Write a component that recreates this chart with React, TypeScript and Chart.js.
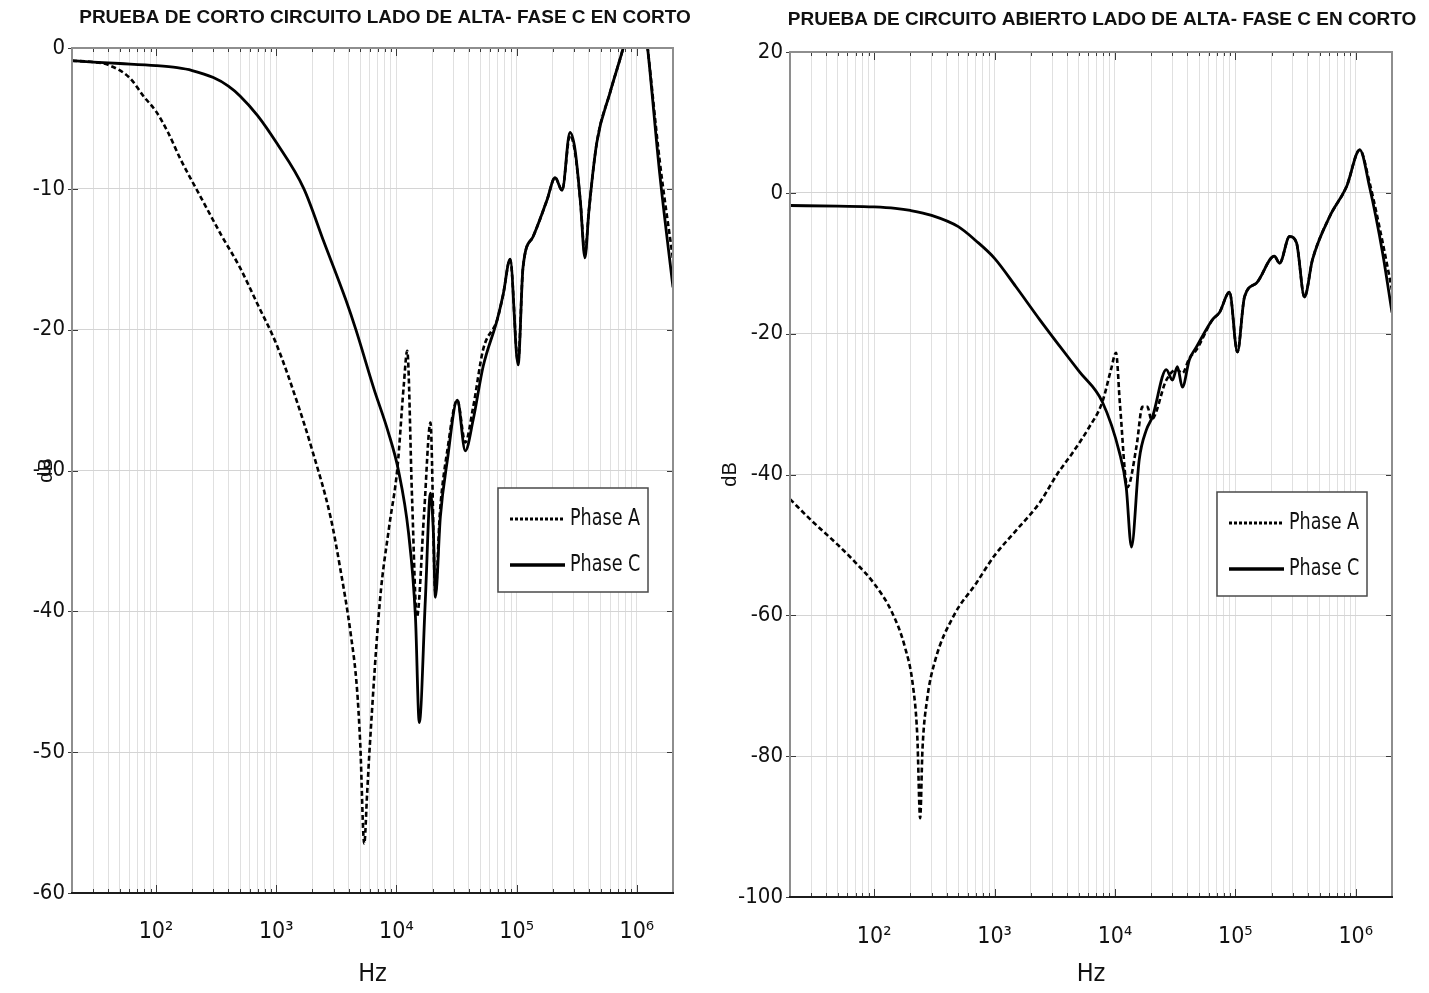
import React, { useEffect, useRef } from "react";
import { Chart, registerables } from "chart.js";

Chart.register(...registerables);

// ---------------- data ----------------
const seriesNames = ["Phase A", "Phase C"];
const decadeValues = [100, 1000, 10000, 100000, 1000000];
const decadeLabels = ["10²", "10³", "10⁴", "10⁵", "10⁶"];

const shortTitle = "PRUEBA DE CORTO CIRCUITO LADO DE ALTA- FASE C EN CORTO";
const openTitle = "PRUEBA DE CIRCUITO ABIERTO LADO DE ALTA- FASE C EN CORTO";

const shortYTicks = [0, -10, -20, -30, -40, -50, -60];
const openYTicks = [20, 0, -20, -40, -60, -80, -100];

// Short-circuit test (left)
const shortFreqA = [20, 30, 40, 60, 80, 100, 126, 160, 236, 350, 500, 700, 1000, 1500, 2000, 2830, 3400, 4150, 4700, 5000, 5400, 5700, 6000, 7300, 8700, 10200, 11500, 12300, 13500, 14800, 17000, 19200, 21100, 23000, 26500, 32100, 37400, 43500, 52700, 68900, 77300, 88300, 102900, 113000, 137000, 179000, 209000, 239000, 278000, 306000, 340000, 370000, 400000, 465000, 597000, 765000, 1060000, 1230000, 1550000, 2000000];
const shortDbA = [-0.9, -1.0, -1.2, -2.1, -3.5, -4.5, -6.0, -7.9, -10.6, -13.3, -15.6, -18.2, -21.0, -25.2, -28.6, -33.3, -36.9, -41.5, -45.5, -49.4, -56.5, -53, -49.6, -39.2, -34, -29.8, -24, -21.5, -32, -40.4, -33, -26.6, -38.7, -33, -28.6, -25, -28, -25.5, -21.4, -19.3, -17.5, -15.0, -22.3, -15.6, -13.4, -10.8, -9.2, -10.1, -6.2, -7.4, -11, -14.6, -11.5, -6.7, -3.2, -0.1, 4.5, 0, -8, -15];

const shortFreqC = [20, 30, 50, 100, 150, 200, 300, 400, 500, 700, 1000, 1700, 2500, 3800, 4600, 6500, 8500, 10400, 12600, 14400, 15500, 17400, 19200, 20300, 21100, 23200, 26500, 32100, 37400, 43500, 52700, 68900, 77300, 88300, 102900, 113000, 137000, 179000, 209000, 239000, 278000, 306000, 340000, 370000, 400000, 465000, 597000, 765000, 1060000, 1230000, 1550000, 2000000];
const shortDbC = [-0.9, -1.0, -1.1, -1.25, -1.4, -1.6, -2.1, -2.7, -3.4, -4.8, -6.7, -10, -13.8, -17.9, -20, -24.2, -27.2, -30, -34.4, -40.4, -47.9, -39.2, -31.6, -34.4, -39, -33.3, -29.3, -25, -28.6, -26.4, -22.6, -19.3, -17.5, -15.0, -22.5, -15.6, -13.4, -10.8, -9.2, -10.1, -6.0, -7.2, -11, -14.9, -11.5, -6.7, -3.2, -0.1, 4.5, 0, -8.9, -17];

// Open-circuit test (right)
const openFreqA = [20, 30, 50, 70, 100, 140, 180, 210, 228, 241, 252, 275, 320, 460, 700, 1000, 1500, 2370, 3300, 4450, 6000, 7860, 9300, 10200, 11000, 12700, 15100, 16900, 18600, 20100, 26700, 32400, 36300, 41500, 47500, 64600, 73800, 89400, 104000, 119000, 150000, 211000, 233000, 282000, 322000, 375000, 437000, 606000, 839000, 1080000, 1300000, 1670000, 2000000];
const openDbA = [-43.5, -46.5, -50, -52.5, -55.5, -59.5, -64.5, -70, -77, -88.8, -79, -72, -66.5, -60, -55.5, -51.5, -48, -44, -40, -36.9, -33.5, -29.7, -25, -22.7, -30, -41.8, -36, -30.4, -30.4, -32.2, -26.6, -25.1, -25.6, -23.5, -22.3, -18, -17, -14.1, -22.6, -14.8, -12.8, -9, -10, -6.2, -7.1, -14.8, -9.5, -3.4, 0.9, 6.1, 1.5, -7, -13.8];

const openFreqC = [20, 50, 100, 150, 200, 300, 500, 700, 1000, 1500, 2370, 3450, 5060, 7860, 10900, 12400, 13700, 15900, 18200, 20500, 26700, 30000, 33000, 36300, 41500, 47500, 64600, 73800, 89400, 104000, 119000, 150000, 211000, 233000, 282000, 322000, 375000, 437000, 606000, 839000, 1080000, 1300000, 1670000, 2000000];
const openDbC = [-1.8, -1.9, -2.0, -2.2, -2.5, -3.2, -4.8, -6.8, -9.3, -13.3, -18, -21.7, -25.4, -29.7, -36.9, -41.8, -50.3, -37.9, -33.7, -31.8, -25.1, -26.6, -24.7, -27.6, -23.7, -21.9, -18, -17, -14.1, -22.6, -14.8, -12.8, -9, -10, -6.2, -7.1, -14.8, -9.5, -3.4, 0.9, 6.1, 0.9, -8.5, -17];

// ---------------- helpers ----------------
const NARROW = "'Liberation Sans Narrow', 'DejaVu Sans Condensed', 'Arial Narrow', sans-serif";
const REGULAR = "'Liberation Sans', Arial, sans-serif";

function toPoints(f: number[], d: number[]) {
  return f.map((x, i) => ({ x, y: d[i] }));
}

function logTickValues(min: number, max: number) {
  const out: number[] = [];
  for (let e = 1; e <= 6; e++) {
    for (let m = 1; m <= 9; m++) {
      const v = m * Math.pow(10, e);
      if (v >= min && v <= max) out.push(v);
    }
  }
  return out;
}

const framePlugin = {
  id: "frame",
  afterDatasetsDraw(chart: any) {
    const { ctx, chartArea } = chart;
    const { left, top, right, bottom } = chartArea;
    const xs = chart.scales.x;
    const ys = chart.scales.y;
    ctx.save();
    ctx.strokeStyle = "#3a3a3a";
    ctx.lineWidth = 1;
    ctx.beginPath();
    xs.ticks.forEach((t: any) => {
      const px = Math.round(xs.getPixelForValue(t.value)) + 0.5;
      const len = decadeValues.indexOf(t.value) >= 0 ? 8 : 4;
      ctx.moveTo(px, bottom);
      ctx.lineTo(px, bottom - len);
      ctx.moveTo(px, top);
      ctx.lineTo(px, top + len);
    });
    ys.ticks.forEach((t: any) => {
      const py = Math.round(ys.getPixelForValue(t.value)) + 0.5;
      ctx.moveTo(left - 4, py);
      ctx.lineTo(left + 6, py);
      ctx.moveTo(right, py);
      ctx.lineTo(right - 6, py);
    });
    ctx.stroke();
    ctx.lineWidth = 2;
    ctx.strokeStyle = "#8e8e8e";
    ctx.beginPath();
    ctx.moveTo(left, bottom);
    ctx.lineTo(left, top);
    ctx.lineTo(right, top);
    ctx.lineTo(right, bottom);
    ctx.stroke();
    ctx.strokeStyle = "#1c1c1c";
    ctx.beginPath();
    ctx.moveTo(left - 1, bottom);
    ctx.lineTo(right + 1, bottom);
    ctx.stroke();
    ctx.restore();
  },
};

const legendBoxPlugin = {
  id: "legendBox",
  afterDraw(chart: any, _args: any, opts: any) {
    const { ctx, chartArea } = chart;
    const w = opts.width;
    const h = opts.height;
    const bx = chartArea.right - opts.rightInset - w;
    const by = chartArea.top + opts.topInset;
    ctx.save();
    ctx.fillStyle = "#ffffff";
    ctx.fillRect(bx, by, w, h);
    ctx.strokeStyle = "#4a4a4a";
    ctx.lineWidth = 1.5;
    ctx.strokeRect(bx, by, w, h);
    const rows = [by + 31, by + 77];
    chart.data.datasets.forEach((ds: any, i: number) => {
      const yy = rows[i];
      ctx.beginPath();
      ctx.strokeStyle = "#000";
      ctx.lineWidth = i === 0 ? 3 : 3.5;
      ctx.setLineDash(i === 0 ? [3, 2] : []);
      ctx.moveTo(bx + 12, yy);
      ctx.lineTo(bx + 67, yy);
      ctx.stroke();
      ctx.setLineDash([]);
      ctx.fillStyle = "#111";
      ctx.font = `23px ${NARROW}`;
      ctx.textAlign = "left";
      ctx.textBaseline = "middle";
      ctx.save();
      ctx.translate(bx + 72, yy);
      ctx.scale(0.85, 1);
      ctx.fillText(ds.label, 0, 0);
      ctx.restore();
    });
    ctx.restore();
  },
};

const titlePlugin = {
  id: "plotTitle",
  afterDraw(chart: any, _args: any, opts: any) {
    const { ctx } = chart;
    ctx.save();
    ctx.fillStyle = "#111";
    ctx.font = `bold 19px ${REGULAR}`;
    ctx.textAlign = "center";
    ctx.textBaseline = "middle";
    ctx.fillText(opts.text, opts.x, opts.y);
    ctx.restore();
  },
};

type PanelProps = {
  left: number;
  width: number;
  height: number;
  title: string;
  titleX: number;
  titleY: number;
  freqA: number[];
  dbA: number[];
  freqC: number[];
  dbC: number[];
  yMin: number;
  yMax: number;
  yTicks: number[];
  yAxisWidth: number;
  xAxisHeight: number;
  padTop: number;
  padRight: number;
  yTitlePad: number;
  xTickPad: number;
};

function Panel(p: PanelProps) {
  const ref = useRef<HTMLCanvasElement>(null);
  useEffect(() => {
    const canvas = ref.current;
    if (!canvas) return;
    const xTicks = logTickValues(20, 2e6);
    const chart = new Chart(canvas, {
      type: "line",
      data: {
        datasets: [
          {
            label: seriesNames[0],
            data: toPoints(p.freqA, p.dbA),
            borderColor: "#000",
            borderWidth: 2.6,
            borderDash: [5, 3],
            pointRadius: 0,
            cubicInterpolationMode: "monotone",
            fill: false,
            clip: 0,
          },
          {
            label: seriesNames[1],
            data: toPoints(p.freqC, p.dbC),
            borderColor: "#000",
            borderWidth: 2.8,
            pointRadius: 0,
            cubicInterpolationMode: "monotone",
            fill: false,
            clip: 0,
          },
        ],
      },
      options: {
        responsive: false,
        animation: false,
        devicePixelRatio: 1,
        layout: { padding: { left: 0, right: p.padRight, top: p.padTop, bottom: 0 } },
        plugins: {
          legend: { display: false },
          tooltip: { enabled: false },
          title: { display: false },
          legendBox: { width: 150, height: 104, rightInset: 25, topInset: 440 },
          plotTitle: { text: p.title, x: p.titleX, y: p.titleY },
        } as any,
        scales: {
          x: {
            type: "logarithmic",
            min: 20,
            max: 2e6,
            afterBuildTicks: (s: any) => {
              s.ticks = xTicks.map((v) => ({ value: v }));
            },
            afterFit: (s: any) => {
              s.height = p.xAxisHeight;
            },
            grid: { color: "#e0e0e0", lineWidth: 1, drawTicks: false },
            border: { display: false },
            ticks: {
              autoSkip: false,
              maxRotation: 0,
              minRotation: 0,
              padding: p.xTickPad,
              color: "#111",
              font: { family: NARROW, size: 23 },
              callback: (v: any) => {
                const i = decadeValues.indexOf(Number(v));
                return i >= 0 ? decadeLabels[i] : "";
              },
            },
            title: {
              display: true,
              text: "Hz",
              color: "#111",
              font: { family: NARROW, size: 25 },
              padding: { top: 0, bottom: 4 },
            },
          },
          y: {
            type: "linear",
            min: p.yMin,
            max: p.yMax,
            afterBuildTicks: (s: any) => {
              s.ticks = p.yTicks.map((v) => ({ value: v }));
            },
            afterFit: (s: any) => {
              s.width = p.yAxisWidth;
            },
            grid: { color: "#d4d4d4", lineWidth: 1, drawTicks: false },
            border: { display: false },
            ticks: {
              padding: 7,
              color: "#111",
              font: { family: NARROW, size: 22 },
            },
            title: {
              display: true,
              text: "dB",
              color: "#111",
              font: { family: REGULAR, size: 20 },
              padding: { top: p.yTitlePad, bottom: 0 },
            },
          },
        },
      },
      plugins: [framePlugin, legendBoxPlugin, titlePlugin],
    } as any);
    return () => chart.destroy();
  }, []);
  return (
    <canvas
      ref={ref}
      width={p.width}
      height={p.height}
      style={{ position: "absolute", left: p.left, top: 0, width: p.width, height: p.height, display: "block" }}
    />
  );
}

export default function App() {
  return (
    <div style={{ position: "absolute", left: 0, top: 0, width: 1429, height: 993, background: "#ffffff", overflow: "hidden" }}>
      <Panel
        left={0}
        width={715}
        height={993}
        title={shortTitle}
        titleX={385}
        titleY={18}
        freqA={shortFreqA}
        dbA={shortDbA}
        freqC={shortFreqC}
        dbC={shortDbC}
        yMin={-60}
        yMax={0}
        yTicks={shortYTicks}
        yAxisWidth={72}
        xAxisHeight={100}
        padTop={48}
        padRight={42}
        yTitlePad={34}
        xTickPad={25}
      />
      <Panel
        left={715}
        width={714}
        height={993}
        title={openTitle}
        titleX={387}
        titleY={20}
        freqA={openFreqA}
        dbA={openDbA}
        freqC={openFreqC}
        dbC={openDbC}
        yMin={-100}
        yMax={20}
        yTicks={openYTicks}
        yAxisWidth={75}
        xAxisHeight={96}
        padTop={52}
        padRight={37}
        yTitlePad={3}
        xTickPad={26}
      />
    </div>
  );
}
